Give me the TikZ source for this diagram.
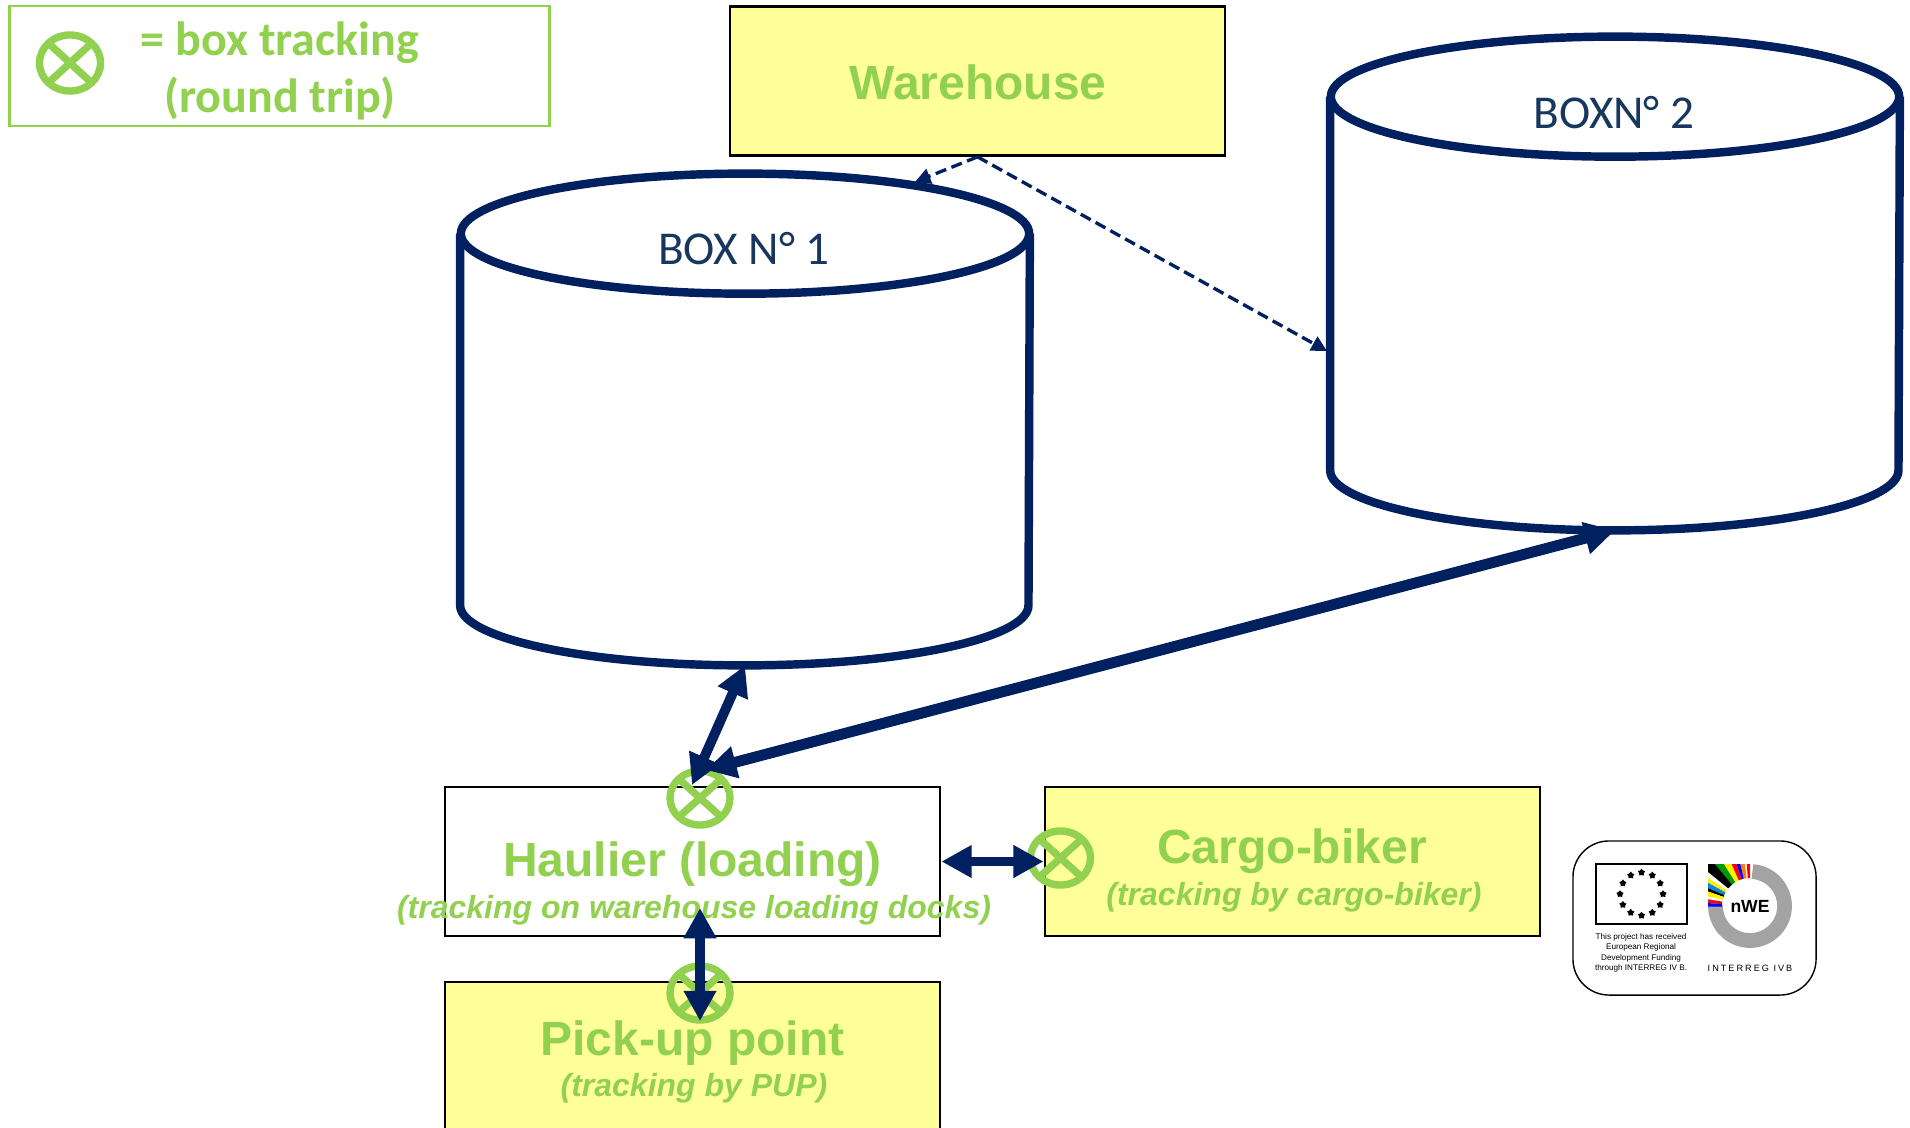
\documentclass[tikz,border=0pt]{standalone}
\usepackage{fontspec}
\setmainfont{Liberation Sans}
\newfontfamily\calibrifont{Carlito}
\usetikzlibrary{arrows.meta,shapes.geometric,calc}
\definecolor{navy}{HTML}{002060}
\definecolor{lime}{HTML}{92D050}
\definecolor{pale}{HTML}{FFFF99}
\definecolor{ringgrey}{HTML}{A3A3A3}
\definecolor{slate}{HTML}{17375E}
\tikzset{
  station/.style={draw=black,line width=.75pt,minimum width=4.95cm,minimum height=1.49cm,inner sep=0pt},
  title/.style={text=lime,font=\fontsize{13.65}{16}\selectfont\bfseries},
  subtitle/.style={text=lime,font=\fontsize{9.1}{11}\selectfont\bfseries\itshape},
  boxlabel/.style={text=slate,font=\calibrifont\fontsize{13.4}{16}\selectfont},
  tracker/.style={shape=ellipse,draw=lime,line width=2.1pt,minimum width=.6cm,minimum height=.54cm,inner sep=0pt,
    path picture={\draw[lime,line width=2.1pt] (path picture bounding box.north west) -- (path picture bounding box.south east)
      (path picture bounding box.north east) -- (path picture bounding box.south west);}},
  store/.style={minimum width=5.68cm,inner sep=0pt},
  storeline/.style={draw=navy,line width=2.4pt,fill=white},
  link/.style={draw=navy,line width=2.8pt,{Triangle[length=8.6pt,width=8.8pt]}-{Triangle[length=8.6pt,width=8.8pt]}},
  dashlink/.style={draw=navy,line width=.95pt,dash pattern=on 3.2pt off 1.6pt,-{Triangle[length=4.4pt,width=4.4pt]}},
  tiny/.style={font=\fontsize{2.32}{3}\selectfont,inner sep=0pt},
}

\begin{document}
\begin{tikzpicture}[x=.01cm,y=-.01cm]

\clip (0,0) rectangle (1910,1128);
\fill[white] (0,0) rectangle (1910,1128);

% legend
\node[draw=lime,line width=.8pt,minimum width=5.4cm,minimum height=1.2cm,inner sep=0pt] (legend) at (279.5,66) {};
\node[tracker,minimum width=.61cm,minimum height=.56cm] (legendmark) at (70,63) {};
\node[text=lime,font=\calibrifont\fontsize{13.65}{16}\selectfont\bfseries,align=center] (legendtext) at (280,71) {= box tracking\\(round trip)};

% stores
\node[store,minimum height=4.9cm] (box1) at (745,419.5) {};
\node[store,minimum height=4.92cm] (box2) at (1615,283.5) {};
\foreach \n in {box1,box2} {
  \draw[storeline] ($(\n.north west)+(0,60)$) -- ($(\n.south west)+(0,-60)$)
    arc[start angle=180,end angle=360,x radius=2.84cm,y radius=.6cm] -- ($(\n.north east)+(0,60)$);
  \draw[storeline] ($(\n.north)+(0,60)$) ellipse [x radius=2.84cm,y radius=.6cm];
}
\node[boxlabel] (box1label) at (744,249) {BOX N° 1};
\node[boxlabel] (box2label) at (1614,113) {BOXN° 2};

% warehouse and stations
\node[station,fill=pale] (warehouse) at (977.5,81) {};
\node[title] (warehouselabel) at (978,82) {Warehouse};
\node[station,fill=white] (haulier) at (692.5,861.5) {};
\node[station,fill=pale] (cargo) at (1292.5,861.5) {};
\node[station,fill=pale,minimum height=2cm] (pickup) at (692.5,1082) {};

\node[tracker] (mark1) at (700,798) {};
\node[tracker] (mark2) at (1060.5,858) {};
\node[tracker] (mark3) at (700,993) {};

\node[title] (haulierlabel) at (692.5,864) {Haulier (loading)};
\node[subtitle] (hauliernote) at (694,910) {(tracking on warehouse loading docks)};
\node[title] (cargolabel) at (1292,851) {Cargo-biker};
\node[subtitle] (cargonote) at (1294,897) {(tracking by cargo-biker)};
\node[title] (pickuplabel) at (692.5,1043) {Pick-up point};
\node[subtitle] (pickupnote) at (694,1088) {(tracking by PUP)};

% connectors
\draw[dashlink] (warehouse.south) -- (915,182);
\draw[dashlink] (warehouse.south) -- (1327,351);
\draw[link] (box1.south) -- (692,785);
\draw[link,line width=3.1pt] (box2.south) -- (706,770);
\draw[link] (haulier.east) -- (cargo.west);
\draw[link] (700,908) -- (700,1021);

% logo
\node[draw=black,line width=.4pt,rounded corners=.36cm,minimum width=2.43cm,minimum height=1.54cm,inner sep=0pt] (logo) at (1694.5,918) {};
\node[draw=black,line width=.5pt,minimum width=.91cm,minimum height=.6cm,inner sep=0pt] (flag) at (1641.5,894) {};
\foreach \a in {0,30,...,330}
  \node[star,star points=5,fill=black,inner sep=0pt,minimum size=.075cm] (s\a) at ($(flag)+(\a:.215cm)$) {};
\node[tiny] (fund1) at (1641,937) {This project has received};
\node[tiny] (fund2) at (1641,947) {European Regional};
\node[tiny] (fund3) at (1641,958) {Development Funding};
\node[tiny] (fund4) at (1641,968) {through INTERREG IV B.};
\coordinate (ring) at (1750,906);
\draw[ringgrey,line width=4.2pt,shift={(ring)}] (86:.345cm) arc[start angle=86,end angle=-180,radius=.345cm];
\begin{scope}[shift={(ring)}]
\clip (-42,-42) rectangle (2,3);
\foreach \p/\q/\col in {90/94.5/red,97/103/orange,103/108/blue,108/114/red,114/122/yellow,122/130/green!60!black,130/141/black,
  146/151/yellow,151/157/cyan!70!blue,157/161/black,161/167/yellow,171/176/red,176/181/blue}
  \fill[\col] (\p:.28cm) -- (\p:.8cm) -- (\q:.8cm) -- (\q:.28cm) -- cycle;
\end{scope}
\node[inner sep=0pt,font=\fontsize{5}{6}\selectfont\bfseries] (nwe) at (ring) {nWE};
\node[inner sep=0pt,font=\fontsize{2.6}{3}\selectfont\addfontfeature{LetterSpace=22}] (programme) at (1750,968) {INTERREG IVB};

\end{tikzpicture}
\end{document}
